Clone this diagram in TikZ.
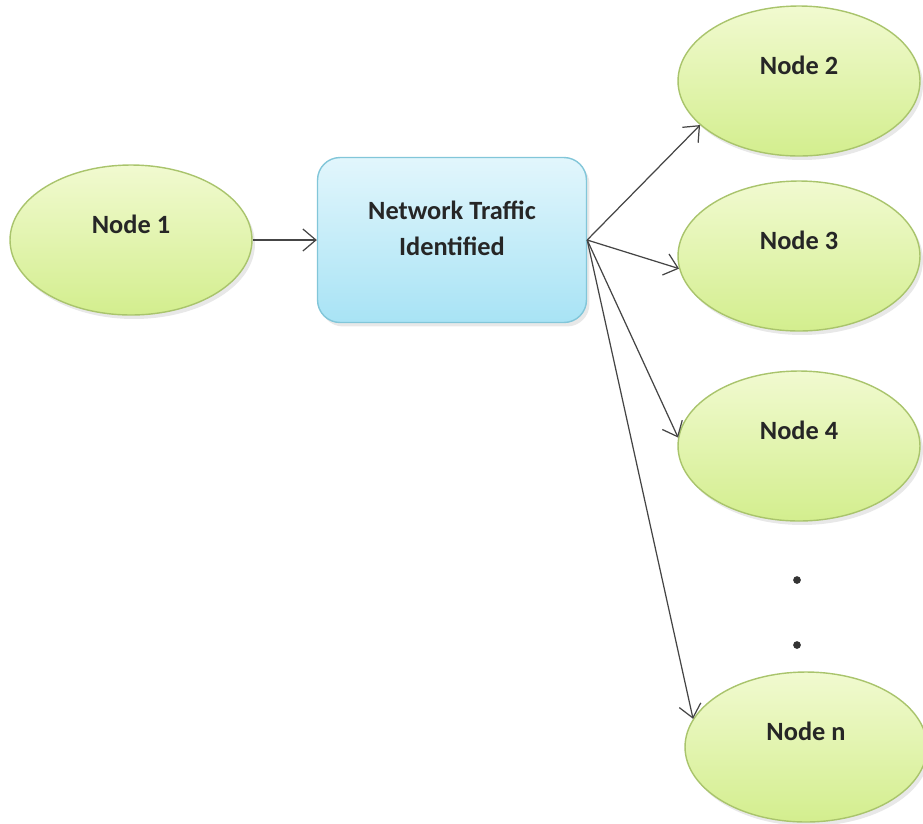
\documentclass[tikz,border=0pt]{standalone}
\usepackage{fontspec}
\setmainfont{Carlito}
\usetikzlibrary{shapes.geometric,arrows.meta,shadows}
\definecolor{leafline}{HTML}{A9C46C}
\definecolor{leaftop}{HTML}{F1FAD0}
\definecolor{leafbot}{HTML}{D3EE8E}
\definecolor{skyline}{HTML}{82C6D9}
\definecolor{skytop}{HTML}{E2F6FC}
\definecolor{skybot}{HTML}{A8E3F5}
\definecolor{wire}{HTML}{454545}
\begin{document}
\begin{tikzpicture}[x=0.02cm, y=-0.02cm,
    peer/.style={ellipse, draw=leafline, line width=0.8pt, top color=leaftop, bottom color=leafbot,
        minimum width=4.84cm, minimum height=3cm, inner sep=0pt,
        text height=0.35cm, text depth=0.62cm,
        font=\fontsize{15}{19}\selectfont\bfseries, text=black!85,
        drop shadow={opacity=0.18, shadow xshift=0.6mm, shadow yshift=-0.8mm}},
    hub/.style={rectangle, rounded corners=0.45cm, draw=skyline, line width=0.8pt, top color=skytop, bottom color=skybot,
        minimum width=5.38cm, minimum height=3.3cm, align=center,
        font=\fontsize{15}{20.5}\selectfont\bfseries, text=black!85,
        drop shadow={opacity=0.18, shadow xshift=0.6mm, shadow yshift=-0.8mm}},
    link/.style={->, >={Straight Barb[length=2.6mm, width=4.4mm]}, draw=wire, line width=0.7pt}]
    \useasboundingbox (0,0) rectangle (923,823);
    \node [peer] (n1) at (131, 240) {Node 1};
    \node [hub] (traffic) at (452, 240) {Network Traffic\\Identified\\[-0.25cm]};
    \node [peer] (n2) at (799, 81) {Node 2};
    \node [peer] (n3) at (799, 256) {Node 3};
    \node [peer] (n4) at (799, 446) {Node 4};
    \node [peer] (nn) at (806, 747) {Node n};
    \fill [black!80] (797, 580) circle (2.2pt);
    \fill [black!80] (797, 645) circle (2.2pt);
    \draw [link] (n1) -- (traffic);
    \draw [link] (traffic.east) -- (n2.204);
    \draw [link] (traffic.east) -- (n3.186);
    \draw [link] (traffic.east) -- (n4.176);
    \draw [link] (traffic.east) -- (nn.166);
\end{tikzpicture}
\end{document}
